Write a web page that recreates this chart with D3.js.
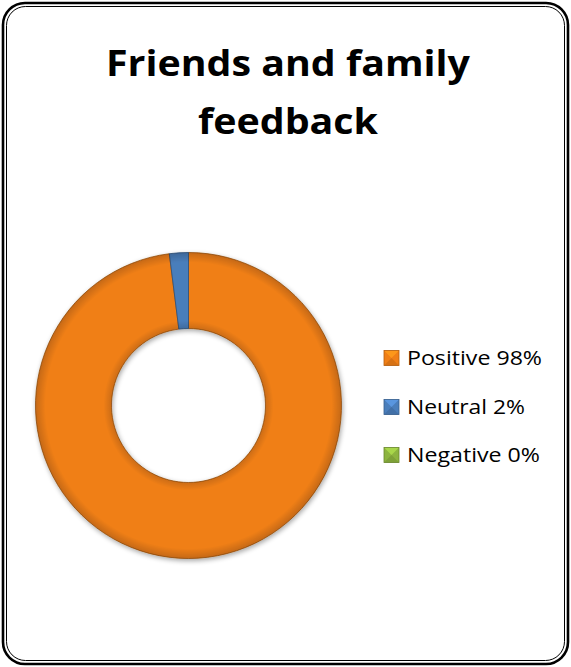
<!DOCTYPE html>
<html><head><meta charset="utf-8">
<script src="https://cdn.jsdelivr.net/npm/d3@7"></script>
<style>html,body{margin:0;padding:0;background:#fff;}svg{display:block;}</style>
</head><body>
<script>
const categories = ["Positive", "Neutral", "Negative"];
const values = [98, 2, 0];
const legendLabels = ["Positive 98%", "Neutral 2%", "Negative 0%"];
const colors = ["#F07F17", "#4A7EBB", "#8DB43F"];
const titleLines = ["Friends and family", "feedback"];

const W = 571, H = 667;
const svg = d3.select("body").append("svg").attr("width", W).attr("height", H);
const defs = svg.append("defs");

const f = defs.append("filter").attr("id","shadow").attr("x","-20%").attr("y","-20%").attr("width","140%").attr("height","140%");
f.append("feGaussianBlur").attr("in","SourceAlpha").attr("stdDeviation",2.5).attr("result","b");
f.append("feOffset").attr("in","b").attr("dx",1).attr("dy",2).attr("result","o");
f.append("feComponentTransfer").attr("in","o").attr("result","s").append("feFuncA").attr("type","linear").attr("slope",0.35);
const m = f.append("feMerge"); m.append("feMergeNode").attr("in","s"); m.append("feMergeNode").attr("in","SourceGraphic");

// border (double line)
svg.append("rect").attr("x",3).attr("y",3).attr("width",W-6).attr("height",H-6).attr("rx",22)
  .attr("fill","none").attr("stroke","#000").attr("stroke-width",2.6);
svg.append("rect").attr("x",6.5).attr("y",6.5).attr("width",W-13).attr("height",H-13).attr("rx",19)
  .attr("fill","none").attr("stroke","#000").attr("stroke-width",1);

// title
const title = svg.append("g");
const titleY = [76, 134];
const titleLen = [364, 180];
titleLines.forEach((t,i)=>{
  title.append("text").attr("x",288).attr("y",titleY[i]).attr("text-anchor","middle")
    .attr("font-family","'Open Sans', sans-serif").attr("font-weight","bold").attr("font-size",36)
    .attr("textLength",titleLen[i]).attr("lengthAdjust","spacingAndGlyphs")
    .attr("fill","#000").text(t);
});

// donut
const cx = 188.5, cy = 405.5, rOuter = 153, rInner = 77;
const pie = d3.pie().sort(null).value(d=>d)(values);
const arc = d3.arc().innerRadius(rInner).outerRadius(rOuter);
const g = svg.append("g").attr("transform",`translate(${cx},${cy})`).attr("filter","url(#shadow)");

const rg = defs.append("radialGradient").attr("id","bevel").attr("gradientUnits","userSpaceOnUse")
  .attr("cx",0).attr("cy",0).attr("r",rOuter);
[[0, "#000", 0.18],[rInner/rOuter, "#000", 0.15],[(rInner+8)/rOuter,"#000",0],[(rOuter-10)/rOuter,"#000",0],[1,"#000",0.18]]
  .forEach(s=>rg.append("stop").attr("offset",s[0]).attr("stop-color",s[1]).attr("stop-opacity",s[2]));

g.selectAll("path.slice").data(pie.filter(d=>d.value>0)).join("path").attr("class","slice")
  .attr("d",arc).attr("fill",d=>colors[d.index]).attr("stroke",d=>d3.color(colors[d.index]).darker(1.2)).attr("stroke-width",0.8);
g.selectAll("path.bev").data(pie.filter(d=>d.value>0)).join("path").attr("class","bev")
  .attr("d",arc).attr("fill","url(#bevel)").attr("pointer-events","none");

// legend
const leg = svg.append("g");
const legY = [358, 407, 455];
const legLen = [135, 118, 133];
categories.forEach((c,i)=>{
  const y = legY[i];
  const col = colors[i];
  const x0 = 384, s = 15;
  const gg = leg.append("g");
  gg.append("rect").attr("x",x0).attr("y",y-s/2).attr("width",s).attr("height",s).attr("fill",col);
  gg.append("path").attr("d",`M${x0},${y-s/2}L${x0+s},${y-s/2}L${x0+s/2},${y}Z`).attr("fill",d3.color(col).brighter(0.6)).attr("opacity",0.8);
  gg.append("path").attr("d",`M${x0},${y+s/2}L${x0+s},${y+s/2}L${x0+s/2},${y}Z`).attr("fill",d3.color(col).darker(0.4)).attr("opacity",0.8);
  gg.append("rect").attr("x",x0).attr("y",y-s/2).attr("width",s).attr("height",s).attr("fill","none")
    .attr("stroke",d3.color(col).darker(0.8)).attr("stroke-width",0.8);
  gg.append("text").attr("x",407).attr("y",y+7).attr("font-family","'Open Sans', sans-serif")
    .attr("font-size",20).attr("textLength",legLen[i]).attr("lengthAdjust","spacingAndGlyphs")
    .attr("fill","#000").text(legendLabels[i]);
});
</script>
</body></html>
